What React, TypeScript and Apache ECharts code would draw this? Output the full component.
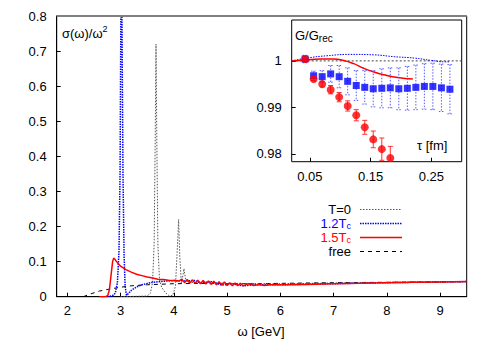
import React, { useEffect, useRef } from "react";
import * as echarts from "echarts";

// ---------- main panel: spectral functions sigma(omega)/omega^2 ----------
const omegaTicks = [2, 3, 4, 5, 6, 7, 8, 9];

const specFree: [number, number][] = [
  [2.3, 0], [2.4, 0.006], [2.5, 0.011], [2.6, 0.016], [2.8, 0.022], [3.0, 0.027],
  [3.2, 0.031], [3.5, 0.034], [4.0, 0.037], [4.5, 0.038], [5.0, 0.037], [5.5, 0.037],
  [6.0, 0.038], [7.0, 0.04], [8.0, 0.041], [9.0, 0.042], [9.5, 0.043],
];

const specT0: [number, number][] = [
  [3.0, 0], [3.3, 0.001], [3.5, 0.002], [3.56, 0.01], [3.6, 0.04], [3.63, 0.15],
  [3.65, 0.45], [3.665, 0.72], [3.68, 0.45], [3.7, 0.15], [3.73, 0.05], [3.77, 0.027],
  [3.85, 0.01], [3.92, 0.002], [3.98, 0.004], [4.03, 0.03], [4.06, 0.12], [4.09, 0.22],
  [4.11, 0.12], [4.14, 0.04], [4.17, 0.06], [4.19, 0.08], [4.22, 0.05], [4.28, 0.04],
  [4.5, 0.041], [5.0, 0.038], [6.0, 0.037], [7.0, 0.039], [8.0, 0.041], [9.0, 0.042], [9.5, 0.043],
];

const spec12: [number, number][] = [
  [2.75, 0], [2.85, 0.003], [2.9, 0.01], [2.94, 0.04], [2.97, 0.13], [2.99, 0.35],
  [3.005, 0.8], [3.015, 1.1], [3.025, 0.8], [3.045, 0.35], [3.065, 0.12], [3.085, 0.03],
  [3.11, 0.004], [3.14, 0.008], [3.2, 0.018], [3.3, 0.028], [3.4, 0.034], [3.5, 0.038],
  [3.6, 0.041], [3.8, 0.044], [4.0, 0.046], [4.2, 0.045], [4.4, 0.046], [4.5, 0.039],
  [4.7, 0.043], [4.9, 0.033], [5.1, 0.037], [5.3, 0.031], [5.5, 0.034], [6.0, 0.034],
  [7.0, 0.037], [8.0, 0.04], [9.0, 0.042], [9.5, 0.043],
];

const spec15: [number, number][] = [
  [2.6, 0], [2.72, 0], [2.76, 0.004], [2.79, 0.02], [2.82, 0.06], [2.85, 0.1], [2.87, 0.11],
  [2.9, 0.105], [2.95, 0.095], [3.0, 0.087], [3.1, 0.077], [3.2, 0.07], [3.3, 0.064],
  [3.4, 0.06], [3.5, 0.056], [3.6, 0.053], [3.7, 0.05], [3.8, 0.049], [3.9, 0.047],
  [4.0, 0.046], [4.1, 0.045], [4.15, 0.05], [4.2, 0.04], [4.25, 0.049], [4.3, 0.039],
  [4.35, 0.048], [4.4, 0.038], [4.45, 0.047], [4.5, 0.037], [4.55, 0.046], [4.6, 0.036],
  [4.65, 0.045], [4.7, 0.035], [4.75, 0.044], [4.8, 0.034], [4.85, 0.043], [4.9, 0.033],
  [4.95, 0.042], [5.0, 0.032], [5.05, 0.04], [5.1, 0.031], [5.15, 0.039], [5.2, 0.031],
  [5.25, 0.038], [5.3, 0.031], [5.4, 0.037], [5.5, 0.032], [5.6, 0.035], [5.7, 0.032],
  [5.8, 0.034], [6.0, 0.034], [6.5, 0.035], [7.0, 0.037], [7.5, 0.038], [8.0, 0.04],
  [8.5, 0.041], [9.0, 0.042], [9.5, 0.043],
];

// ---------- inset: G/G_rec vs tau ----------
const tauTicks = [0.05, 0.15, 0.25];
const ratioTicks = [0.98, 0.99, 1];

const tau = [
  0.0421, 0.0561, 0.0702, 0.0842, 0.0982, 0.1122, 0.1263, 0.1403, 0.1543,
  0.1684, 0.1824, 0.1964, 0.2105, 0.2245, 0.2385, 0.2525, 0.2666, 0.2806,
];
const ratio12 = [
  1.0004, 0.9968, 0.9966, 0.9972, 0.9966, 0.9956, 0.9947, 0.9943, 0.994,
  0.9941, 0.9942, 0.994, 0.9941, 0.9943, 0.9945, 0.9945, 0.9942, 0.9939,
];
const err12 = [
  0.0008, 0.001, 0.0013, 0.0018, 0.0024, 0.0029, 0.0032, 0.0036, 0.0039,
  0.0042, 0.0043, 0.0045, 0.0047, 0.0048, 0.0049, 0.005, 0.0051, 0.0053,
];
const ratio15 = [1.0004, 0.9961, 0.995, 0.9938, 0.9922, 0.9903, 0.9883, 0.9857, 0.9831, 0.981, 0.9791];
const err15 = [0.0003, 0.0004, 0.0006, 0.0009, 0.001, 0.0011, 0.0012, 0.0015, 0.0018, 0.0024, 0.0025];

const curve15: [number, number][] = [
  [0.02, 1.0], [0.0428, 1.0002], [0.0667, 1.0004], [0.0889, 1.0004], [0.1056, 1.0001],
  [0.1222, 0.9994], [0.1389, 0.9984], [0.1556, 0.9976], [0.1722, 0.997], [0.1944, 0.9964],
  [0.2195, 0.9961],
];
const curve12: [number, number][] = [
  [0.02, 1.0], [0.0445, 1.0006], [0.0778, 1.0011], [0.1167, 1.0014], [0.1556, 1.0013],
  [0.1889, 1.0009], [0.2222, 1.0006], [0.25, 1.0001], [0.2722, 0.9998], [0.2806, 0.9998],
];
const unityLine: [number, number][] = [[0.02, 1], [0.3, 1]];

const FONT = "Liberation Sans, Arial, Helvetica, sans-serif";
const RED = "#ff0000";
const BLUE = "#0000ff";

function errorBarSeries(data: number[][], color: string, dash: number[] | null, z: number) {
  return {
    type: "custom",
    xAxisIndex: 1,
    yAxisIndex: 1,
    z,
    clip: true,
    silent: true,
    data,
    encode: { x: 0, y: 1 },
    renderItem: (_params: any, api: any) => {
      const x = api.value(0);
      const y = api.value(1);
      const e = api.value(2);
      const top = api.coord([x, y + e]);
      const bot = api.coord([x, y - e]);
      const hw = 2.5;
      const style: any = { stroke: color, lineWidth: 1 };
      if (dash) style.lineDash = dash;
      return {
        type: "group",
        children: [
          { type: "line", shape: { x1: top[0], y1: top[1], x2: bot[0], y2: bot[1] }, style },
          { type: "line", shape: { x1: top[0] - hw, y1: top[1], x2: top[0] + hw, y2: top[1] }, style },
          { type: "line", shape: { x1: bot[0] - hw, y1: bot[1], x2: bot[0] + hw, y2: bot[1] }, style },
        ],
      };
    },
  };
}

function txt(x: number, y: number, text: string, fill: string, size: number, align: string) {
  return {
    type: "text", z: 20, silent: true,
    style: { x, y, text, align, verticalAlign: "middle", fill, fontSize: size, fontFamily: FONT },
  };
}

export default function App() {
  const ref = useRef<HTMLDivElement>(null);

  useEffect(() => {
    if (!ref.current) return;
    const chart = echarts.init(ref.current, null, { renderer: "svg" });

    const labelStyle = { color: "#000", fontSize: 13, fontFamily: FONT };

    const option: any = {
      animation: false,
      backgroundColor: "#fff",
      textStyle: { fontFamily: FONT },
      grid: [
        { left: 56.7, top: 16, right: 24.3, bottom: 46.3, show: true, borderColor: "#000", borderWidth: 1, backgroundColor: "transparent" },
        { left: 291.7, top: 20, right: 29.3, bottom: 181.3, show: true, borderColor: "#000", borderWidth: 1, backgroundColor: "#fff", z: 3 },
      ],
      xAxis: [
        {
          type: "value", gridIndex: 0, min: 1.8, max: 9.5,
          axisLine: { show: true, lineStyle: { color: "#000" } },
          axisTick: { show: true, inside: true, length: 4, customValues: omegaTicks, lineStyle: { color: "#000" } },
          axisLabel: { ...labelStyle, margin: 7, customValues: omegaTicks },
          splitLine: { show: false },
        },
        {
          type: "value", gridIndex: 1, min: 0.02, max: 0.3, z: 4,
          axisLine: { show: false },
          axisTick: { show: true, inside: true, length: 4, customValues: tauTicks, lineStyle: { color: "#000" } },
          axisLabel: { ...labelStyle, margin: 8, customValues: tauTicks, formatter: (v: number) => v.toFixed(2) },
          splitLine: { show: false },
        },
      ],
      yAxis: [
        {
          type: "value", gridIndex: 0, min: 0, max: 0.8, interval: 0.1,
          axisLine: { show: true, lineStyle: { color: "#000" } },
          axisTick: { show: true, inside: true, length: 4, lineStyle: { color: "#000" } },
          axisLabel: { ...labelStyle, margin: 10 },
          splitLine: { show: false },
        },
        {
          type: "value", gridIndex: 1, min: 0.9783, max: 1.0088, z: 4,
          axisLine: { show: false },
          axisTick: { show: true, inside: true, length: 4, customValues: ratioTicks, lineStyle: { color: "#000" } },
          axisLabel: { ...labelStyle, margin: 10, customValues: ratioTicks, formatter: (v: number) => (v === 1 ? "1" : v.toFixed(2)) },
          splitLine: { show: false },
        },
      ],
      series: [
        { name: "free", type: "line", data: specFree, showSymbol: false, silent: true, z: 2,
          lineStyle: { color: "#000", width: 1, type: [4, 4] } },
        { name: "T=0", type: "line", data: specT0, showSymbol: false, silent: true, z: 2,
          lineStyle: { color: "#555", width: 1, type: [1.5, 1.5] } },
        { name: "1.2Tc", type: "line", data: spec12, showSymbol: false, silent: true, z: 2,
          lineStyle: { color: BLUE, width: 1.5, type: [1.5, 1] } },
        { name: "1.5Tc", type: "line", data: spec15, showSymbol: false, silent: true, z: 2,
          lineStyle: { color: RED, width: 1.5 } },

        // inset
        { type: "line", xAxisIndex: 1, yAxisIndex: 1, data: unityLine, showSymbol: false, silent: true, z: 5,
          lineStyle: { color: "#444", width: 1, type: [2, 2] } },
        { type: "line", xAxisIndex: 1, yAxisIndex: 1, data: curve12, showSymbol: false, silent: true, z: 5,
          smooth: true, lineStyle: { color: BLUE, width: 1, type: [1.5, 1.2] } },
        { type: "line", xAxisIndex: 1, yAxisIndex: 1, data: curve15, showSymbol: false, silent: true, z: 5,
          smooth: true, lineStyle: { color: RED, width: 1.5 } },
        errorBarSeries(tau.map((t, i) => [t, ratio12[i], err12[i]]), "#5a5aff", [1.5, 1.5], 6),
        { type: "scatter", xAxisIndex: 1, yAxisIndex: 1, z: 7, silent: true,
          data: tau.map((t, i) => [t, ratio12[i]]), symbol: "rect", symbolSize: 7,
          itemStyle: { color: BLUE } },
        errorBarSeries(ratio15.map((r, i) => [tau[i], r, err15[i]]), "#ff3030", null, 8),
        { type: "scatter", xAxisIndex: 1, yAxisIndex: 1, z: 9, silent: true,
          data: ratio15.map((r, i) => [tau[i], r]), symbol: "circle", symbolSize: 8,
          itemStyle: { color: RED } },
      ],
      graphic: [
        // grey top border of the main frame
        { type: "line", z: 20, silent: true, shape: { x1: 56.7, y1: 16, x2: 466.7, y2: 16 },
          style: { stroke: "#808080", lineWidth: 2 } },
        { type: "text", z: 20, silent: true,
          style: { x: 62, y: 33, text: "{a|σ(ω)/ω}{s|2}", verticalAlign: "middle", align: "left",
            fill: "#000", fontFamily: FONT,
            rich: { a: { fontSize: 13, fontFamily: FONT, fill: "#000" },
                    s: { fontSize: 9, fontFamily: FONT, fill: "#000", padding: [0, 0, 9, 0] } } } },
        txt(261, 331, "ω [GeV]", "#000", 13, "center"),
        { type: "text", z: 20, silent: true,
          style: { x: 295, y: 35, text: "{a|G/G}{s|rec}", verticalAlign: "middle", align: "left",
            fill: "#000", fontFamily: FONT,
            rich: { a: { fontSize: 13, fontFamily: FONT, fill: "#000" },
                    s: { fontSize: 10, fontFamily: FONT, fill: "#000", padding: [7, 0, 0, 0] } } } },
        txt(417, 145, "τ [fm]", "#000", 13, "left"),
        // legend
        txt(351, 209.5, "T=0", "#000", 13, "right"),
        { type: "line", z: 20, silent: true, shape: { x1: 360, y1: 209.5, x2: 402, y2: 209.5 },
          style: { stroke: "#555", lineWidth: 1, lineDash: [1.5, 1.5] } },
        txt(346.5, 223, "1.2T", BLUE, 13, "right"),
        txt(346.5, 226, "c", BLUE, 9, "left"),
        { type: "line", z: 20, silent: true, shape: { x1: 360, y1: 223.5, x2: 402, y2: 223.5 },
          style: { stroke: BLUE, lineWidth: 1.5, lineDash: [1.5, 1] } },
        txt(346.5, 237, "1.5T", RED, 13, "right"),
        txt(346.5, 240, "c", RED, 9, "left"),
        { type: "line", z: 20, silent: true, shape: { x1: 360, y1: 237.5, x2: 402, y2: 237.5 },
          style: { stroke: RED, lineWidth: 1.5 } },
        txt(351, 251.5, "free", "#000", 13, "right"),
        { type: "line", z: 20, silent: true, shape: { x1: 360, y1: 251.5, x2: 402, y2: 251.5 },
          style: { stroke: "#000", lineWidth: 1, lineDash: [4, 4] } },
      ],
    };

    chart.setOption(option);
    return () => chart.dispose();
  }, []);

  return (
    <div
      ref={ref}
      style={{ position: "fixed", left: 0, top: 0, width: 491, height: 343, background: "#fff" }}
    />
  );
}
